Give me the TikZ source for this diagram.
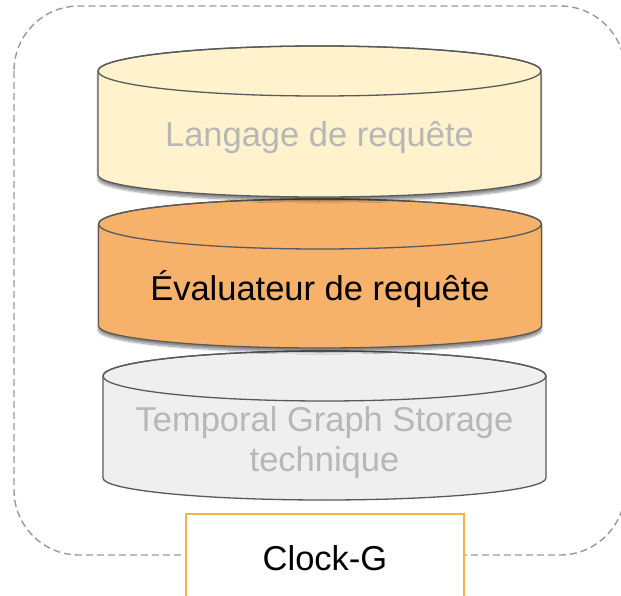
\documentclass[tikz,border=0pt]{standalone}
\usepackage{fontspec}
\setmainfont{Liberation Sans}
\usetikzlibrary{shadows.blur}
\definecolor{layerline}{HTML}{595959}
\definecolor{langfill}{HTML}{FFF2CC}
\definecolor{evalfill}{HTML}{F6B26B}
\definecolor{storefill}{HTML}{EFEFEF}
\definecolor{fadedtext}{HTML}{B7B7B7}
\definecolor{clockline}{HTML}{F9B04A}
\definecolor{frameline}{HTML}{999999}
% one layer of the stack: centre x, top y, bottom y, fill, extra options
\newcommand*{\Layer}[5]{%
  \filldraw[layer, fill=#4, #5] (#1-221.5,#2) -- (#1-221.5,#3)
    arc[start angle=180, end angle=0, x radius=221.5, y radius=22]
    -- (#1+221.5,#2)
    arc[start angle=0, end angle=-180, x radius=221.5, y radius=25] -- cycle;
  \draw[layer] (#1,#2) ellipse[x radius=221.5, y radius=25];
}

\begin{document}
\begin{tikzpicture}[x=1pt, y=-1pt,
    layer/.style={draw=layerline, line width=1.3pt},
    soft/.style={blur shadow={shadow xshift=0pt, shadow yshift=-4pt, shadow blur steps=10, shadow opacity=45}},
    label/.style={font=\fontsize{34.5}{40}\selectfont, anchor=base, align=center}]
  \clip (0,0) rectangle (621,596);
  % outer frame
  \draw[frameline, line width=1.4pt, dash pattern=on 7pt off 4pt, rounded corners=65pt]
    (14,6) rectangle (625,555);
  % stack
  \Layer{324.5}{376}{478}{storefill}{}
  \Layer{320}{224}{326}{evalfill}{soft}
  \Layer{319.5}{71}{175}{langfill}{soft}
  \node[label, text=fadedtext] (lang) at (319.5,147) {Langage de requête};
  \node[label] (eval) at (320,300) {Évaluateur de requête};
  \node[label, text=fadedtext, anchor=center] (store) at (324.5,443)
    {Temporal Graph Storage\\technique};
  % system name
  \node[draw=clockline, line width=1.3pt, fill=white, minimum width=278pt, minimum height=88pt,
    font=\fontsize{34.5}{40}\selectfont] (clock) at (325,558) {Clock-G};
\end{tikzpicture}
\end{document}
